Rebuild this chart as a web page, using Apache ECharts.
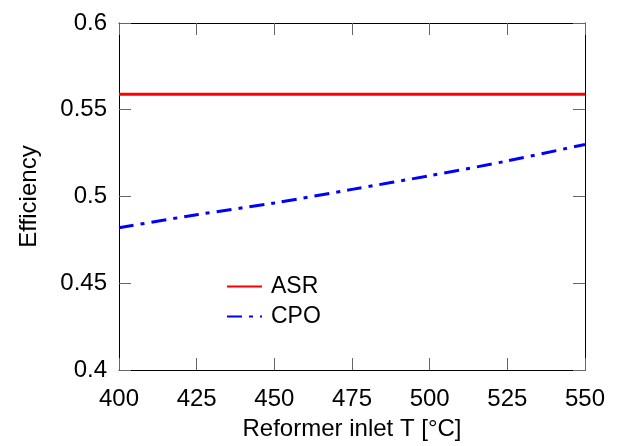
<!DOCTYPE html>
<html>
<head>
<meta charset="utf-8">
<script src="https://cdn.jsdelivr.net/npm/echarts@6/dist/echarts.min.js"></script>
<style>html,body{margin:0;padding:0;background:#fff}#c{width:619px;height:446px}</style>
</head>
<body>
<div id="c"></div>
<script>
var temps = [400, 425, 450, 475, 500, 525, 550];
var asr = [0.559, 0.559, 0.559, 0.559, 0.559, 0.559, 0.559];
var cpo = [0.482, 0.4895, 0.4963, 0.5041, 0.5120, 0.5205, 0.5300];
var xTicks = [400, 425, 450, 475, 500, 525, 550];
var yTicks = [0.4, 0.45, 0.5, 0.55, 0.6];
var seriesNames = ['ASR', 'CPO'];

var font = 'Liberation Sans, Arial, sans-serif';
var chart = echarts.init(document.getElementById('c'), null, {renderer: 'canvas'});

function pairs(xs, ys) { return xs.map(function (x, i) { return [x, ys[i]]; }); }

var tickStyle = {show: true, inside: true, length: 12, lineStyle: {color: '#666', width: 1}};
var lineAxis = {show: true, lineStyle: {color: '#000', width: 1}};

chart.setOption({
  animation: false,
  backgroundColor: '#fff',
  grid: {left: 119, right: 34, top: 23, bottom: 75, containLabel: false},
  legend: {
    orient: 'vertical', left: 221, top: 270,
    itemWidth: 35, itemHeight: 14, itemGap: 7,
    data: seriesNames,
    itemStyle: {opacity: 0},
    textStyle: {fontFamily: font, fontSize: 23, lineHeight: 23, color: '#000', padding: [0, 0, 0, 4]}
  },
  xAxis: [{
    type: 'value', min: xTicks[0], max: xTicks[xTicks.length - 1], interval: 25,
    name: 'Reformer inlet T [°C]', nameLocation: 'middle', nameGap: 47,
    nameTextStyle: {fontFamily: font, fontSize: 24, color: '#000'},
    axisLine: lineAxis, axisTick: tickStyle, splitLine: {show: false},
    axisLabel: {fontFamily: font, fontSize: 24, color: '#000', margin: 17}
  }, {
    type: 'value', position: 'top', min: xTicks[0], max: xTicks[xTicks.length - 1], interval: 25,
    axisLine: lineAxis, axisTick: tickStyle, splitLine: {show: false}, axisLabel: {show: false}
  }],
  yAxis: [{
    type: 'value', min: yTicks[0], max: yTicks[yTicks.length - 1], interval: 0.05,
    name: 'Efficiency', nameLocation: 'middle', nameGap: 78,
    nameTextStyle: {fontFamily: font, fontSize: 24, color: '#000'},
    axisLine: lineAxis, axisTick: tickStyle, splitLine: {show: false},
    axisLabel: {fontFamily: font, fontSize: 24, color: '#000', margin: 12,
      formatter: function (v) { return String(parseFloat(v.toFixed(2))); }}
  }, {
    type: 'value', position: 'right', min: yTicks[0], max: yTicks[yTicks.length - 1], interval: 0.05,
    axisLine: lineAxis, axisTick: tickStyle, splitLine: {show: false}, axisLabel: {show: false}
  }],
  series: [{
    name: seriesNames[0], type: 'line', xAxisIndex: 0, yAxisIndex: 0,
    data: pairs(temps, asr), symbol: 'none',
    lineStyle: {color: '#ff0000', width: 3, type: 'solid'},
    itemStyle: {color: '#ff0000'}
  }, {
    name: seriesNames[1], type: 'line', xAxisIndex: 0, yAxisIndex: 0,
    data: pairs(temps, cpo), symbol: 'none', smooth: 0.3,
    lineStyle: {color: '#0000ff', width: 3, type: [15, 7, 4, 7]},
    itemStyle: {color: '#0000ff'}
  }]
});
</script>
</body>
</html>
